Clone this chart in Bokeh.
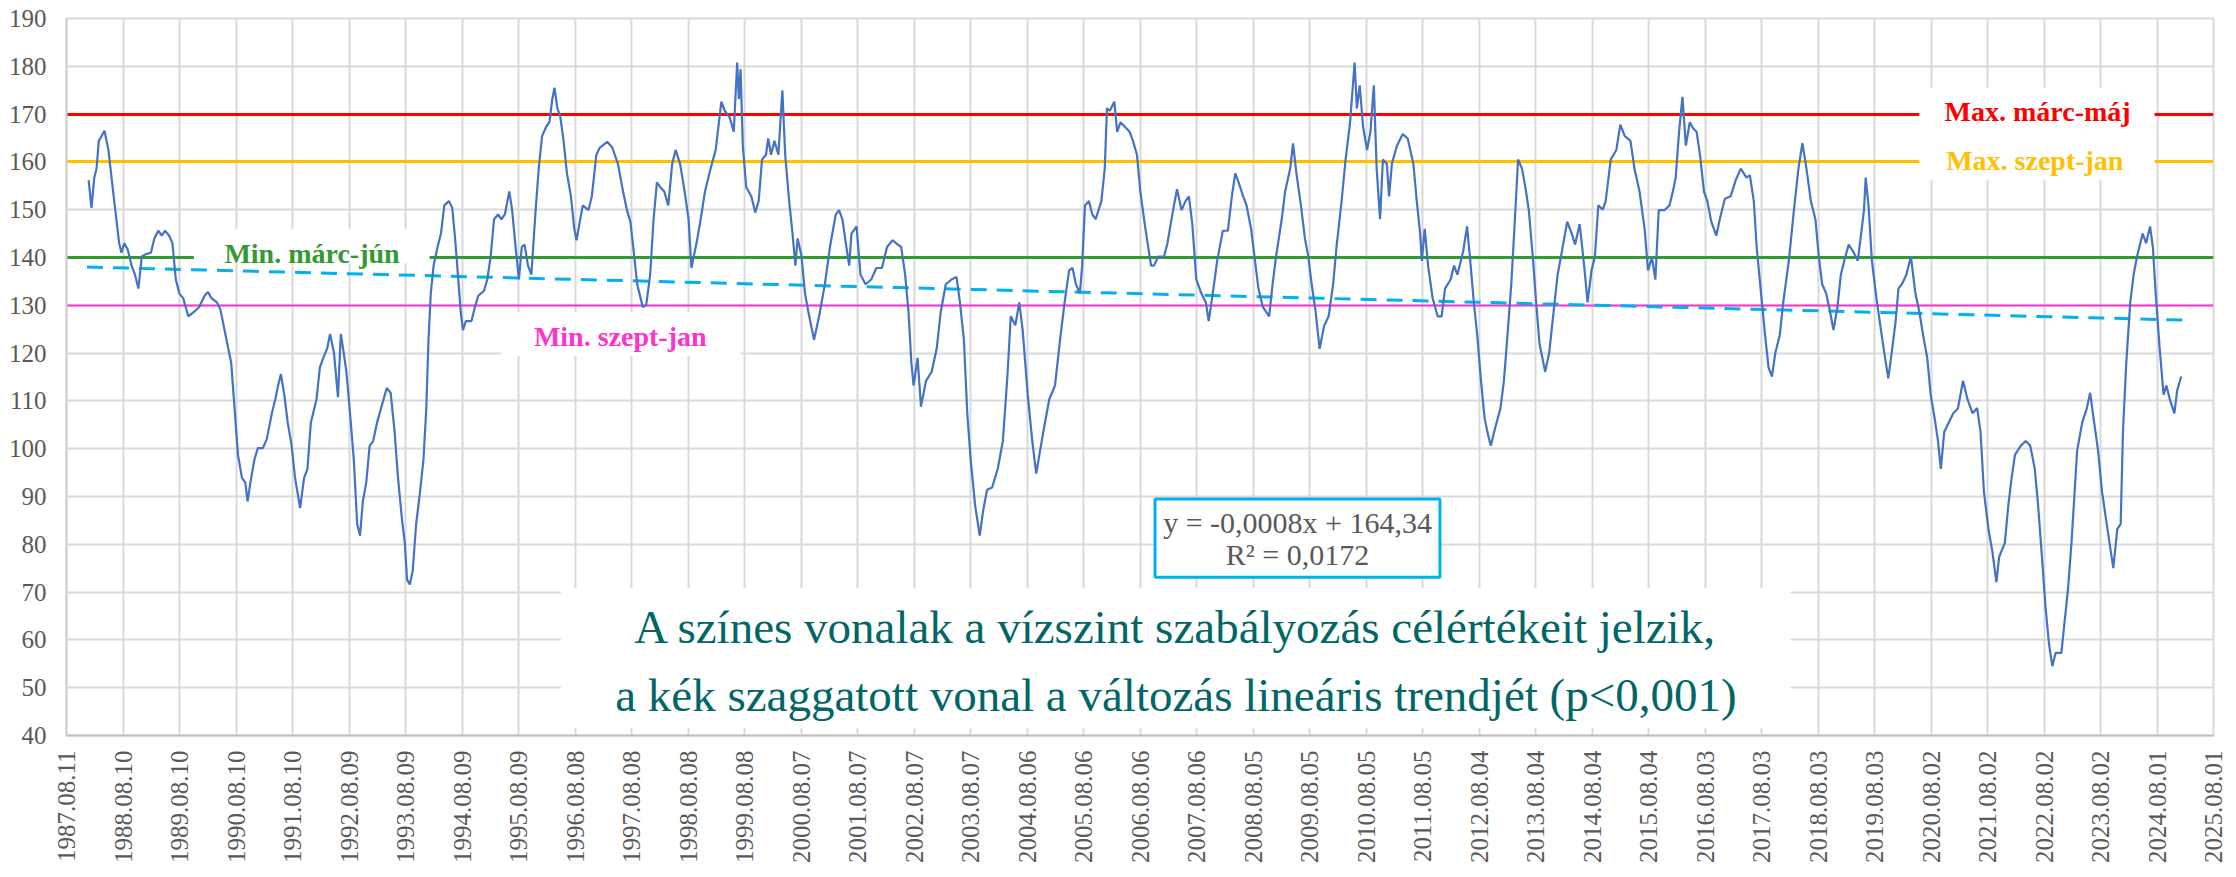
import numpy as np
import pandas as pd
from bokeh.plotting import figure
from bokeh.models import Range1d, FixedTicker, DatetimeTickFormatter
from bokeh.core.properties import value
from bokeh.embed import file_html
from bokeh.resources import INLINE

# ---------------- data ----------------
tick_labels = ["1987.08.11", "1988.08.10", "1989.08.10", "1990.08.10", "1991.08.10",
               "1992.08.09", "1993.08.09", "1994.08.09", "1995.08.09", "1996.08.08",
               "1997.08.08", "1998.08.08", "1999.08.08", "2000.08.07", "2001.08.07",
               "2002.08.07", "2003.08.07", "2004.08.06", "2005.08.06", "2006.08.06",
               "2007.08.06", "2008.08.05", "2009.08.05", "2010.08.05", "2011.08.05",
               "2012.08.04", "2013.08.04", "2014.08.04", "2015.08.04", "2016.08.03",
               "2017.08.03", "2018.08.03", "2019.08.03", "2020.08.02", "2021.08.02",
               "2022.08.02", "2023.08.02", "2024.08.01", "2025.08.01"]
y_ticks = list(range(40, 200, 10))

# water level series (decimal year, cm)
dec_years = [
    1988.00, 1988.05, 1988.10, 1988.14, 1988.18, 1988.22, 1988.28, 1988.35, 1988.41, 1988.47,
    1988.54, 1988.58, 1988.63, 1988.69, 1988.76, 1988.82, 1988.88, 1988.94, 1989.01, 1989.10,
    1989.16, 1989.23, 1989.29, 1989.35, 1989.42, 1989.48, 1989.54, 1989.60, 1989.67, 1989.76,
    1989.86, 1989.95, 1990.05, 1990.11, 1990.17, 1990.27, 1990.33, 1990.42, 1990.52, 1990.58,
    1990.64, 1990.71, 1990.77, 1990.81, 1990.86, 1990.93, 1990.99, 1991.08, 1991.15, 1991.24,
    1991.30, 1991.35, 1991.40, 1991.46, 1991.52, 1991.59, 1991.65, 1991.74, 1991.81, 1991.87,
    1991.93, 1992.03, 1992.09, 1992.15, 1992.22, 1992.27, 1992.34, 1992.41, 1992.46, 1992.50,
    1992.56, 1992.63, 1992.69, 1992.75, 1992.80, 1992.85, 1992.91, 1992.97, 1993.03, 1993.10,
    1993.19, 1993.27, 1993.34, 1993.41, 1993.47, 1993.54, 1993.59, 1993.63, 1993.68, 1993.73,
    1993.79, 1993.85, 1993.92, 1993.97, 1994.01, 1994.05, 1994.10, 1994.17, 1994.23, 1994.29,
    1994.37, 1994.43, 1994.48, 1994.53, 1994.58, 1994.62, 1994.67, 1994.77, 1994.83, 1994.89,
    1994.99, 1995.05, 1995.11, 1995.17, 1995.24, 1995.30, 1995.36, 1995.44, 1995.49, 1995.55,
    1995.61, 1995.66, 1995.71, 1995.77, 1995.83, 1995.90, 1995.96, 1996.02, 1996.09, 1996.15,
    1996.20, 1996.24, 1996.29, 1996.34, 1996.40, 1996.46, 1996.53, 1996.59, 1996.63, 1996.68,
    1996.74, 1996.84, 1996.90,
    1996.98, 1997.04, 1997.17, 1997.26, 1997.36, 1997.45, 1997.52, 1997.58, 1997.64, 1997.70,
    1997.80, 1997.86, 1997.93, 1997.99, 1998.05, 1998.11, 1998.18, 1998.25, 1998.32, 1998.38,
    1998.46, 1998.54, 1998.61, 1998.66, 1998.75, 1998.81, 1998.90, 1999.00, 1999.09, 1999.19,
    1999.25, 1999.34, 1999.41, 1999.47, 1999.50, 1999.53, 1999.57, 1999.63, 1999.72, 1999.79,
    1999.85, 1999.91, 1999.98, 2000.02, 2000.07, 2000.13, 2000.20, 2000.27, 2000.32, 2000.39,
    2000.45, 2000.50, 2000.54, 2000.61, 2000.67, 2000.73, 2000.83, 2000.92, 2001.02, 2001.11,
    2001.21, 2001.27, 2001.33, 2001.40, 2001.45, 2001.49, 2001.58, 2001.65, 2001.74, 2001.84,
    2001.93, 2002.03, 2002.12, 2002.22, 2002.31, 2002.37, 2002.44, 2002.50, 2002.55, 2002.59,
    2002.66, 2002.72, 2002.81, 2002.91, 2003.00, 2003.07, 2003.16, 2003.26, 2003.35, 2003.41,
    2003.48, 2003.54, 2003.60, 2003.68, 2003.76, 2003.82, 2003.89, 2003.98, 2004.08, 2004.17,
    2004.25, 2004.31, 2004.39, 2004.46, 2004.52, 2004.61, 2004.69, 2004.76, 2004.83, 2004.90,
    2004.99, 2005.09, 2005.18, 2005.26, 2005.34, 2005.40, 2005.46, 2005.53, 2005.57, 2005.62,
    2005.69, 2005.75, 2005.81, 2005.91, 2005.97, 2006.01, 2006.06, 2006.14, 2006.19, 2006.25,
    2006.33, 2006.41, 2006.47, 2006.54, 2006.60, 2006.69, 2006.79,
    2006.84, 2006.92, 2007.02, 2007.08, 2007.18, 2007.25, 2007.33, 2007.40, 2007.46, 2007.52,
    2007.59, 2007.68, 2007.76, 2007.81, 2007.87, 2007.96, 2008.06, 2008.15, 2008.22, 2008.28,
    2008.34, 2008.42, 2008.48, 2008.56, 2008.63, 2008.69, 2008.77, 2008.88, 2008.94, 2009.00,
    2009.10, 2009.16, 2009.25, 2009.30, 2009.36, 2009.44, 2009.51, 2009.57, 2009.63, 2009.70,
    2009.77, 2009.85, 2009.93, 2010.01, 2010.07, 2010.16, 2010.23, 2010.31, 2010.39, 2010.43,
    2010.48, 2010.54, 2010.61, 2010.67, 2010.73, 2010.78, 2010.84, 2010.89, 2010.96, 2011.00,
    2011.05, 2011.14, 2011.24, 2011.33, 2011.43, 2011.49, 2011.55, 2011.58, 2011.63, 2011.69,
    2011.77, 2011.86, 2011.93, 2011.99, 2012.09, 2012.15, 2012.21, 2012.31, 2012.38, 2012.43,
    2012.50, 2012.56, 2012.62, 2012.69, 2012.75, 2012.80, 2012.88, 2012.97, 2013.03, 2013.10,
    2013.16, 2013.22, 2013.28, 2013.35, 2013.41, 2013.47, 2013.54, 2013.60, 2013.66, 2013.76,
    2013.83, 2013.90, 2013.98, 2014.07, 2014.15, 2014.23, 2014.29, 2014.37, 2014.45, 2014.51,
    2014.58, 2014.64, 2014.70, 2014.78, 2014.83, 2014.92, 2015.02, 2015.09, 2015.17, 2015.27,
    2015.34, 2015.43, 2015.52, 2015.58, 2015.65, 2015.71, 2015.77, 2015.87, 2015.96, 2016.02,
    2016.07, 2016.13, 2016.19, 2016.25, 2016.32, 2016.38, 2016.44, 2016.50, 2016.57, 2016.63,
    2016.70, 2016.79, 2016.85, 2016.94, 2017.04, 2017.13, 2017.22, 2017.32, 2017.38, 2017.45,
    2017.50, 2017.57, 2017.64, 2017.71, 2017.77, 2017.83, 2017.91, 2017.97, 2018.07, 2018.16,
    2018.24, 2018.31, 2018.37, 2018.46, 2018.54, 2018.60, 2018.66, 2018.73, 2018.80, 2018.86,
    2018.93, 2018.99, 2019.07, 2019.13, 2019.21, 2019.29, 2019.35, 2019.40, 2019.43, 2019.48,
    2019.54, 2019.62, 2019.70, 2019.76, 2019.83, 2019.90, 2019.96, 2020.01, 2020.07, 2020.15,
    2020.23, 2020.31, 2020.38, 2020.46, 2020.52, 2020.58, 2020.65, 2020.71, 2020.76, 2020.82,
    2020.90, 2020.98, 2021.06, 2021.15, 2021.23, 2021.32, 2021.40, 2021.46, 2021.52, 2021.60,
    2021.67, 2021.74, 2021.79, 2021.89, 2021.95, 2022.01, 2022.07, 2022.17, 2022.26, 2022.34,
    2022.42, 2022.48, 2022.54, 2022.61, 2022.67, 2022.73, 2022.79, 2022.89, 2022.95, 2023.01,
    2023.07, 2023.17, 2023.26, 2023.34, 2023.40, 2023.46, 2023.54, 2023.61, 2023.67, 2023.73,
    2023.81, 2023.88, 2023.94, 2023.98, 2024.04, 2024.11, 2024.17, 2024.23, 2024.33, 2024.39,
    2024.46, 2024.51, 2024.56, 2024.63, 2024.70, 2024.75, 2024.81, 2024.89, 2024.94, 2025.01,
]
level_cm = [
    156.2, 150.4, 156.7, 158.6, 164.4, 165.2, 166.5, 162.5, 156.2, 150.0,
    143.0, 141.0, 143.0, 141.7, 138.3, 136.4, 133.5, 140.2, 140.7, 141.0,
    144.0, 145.6, 144.6, 145.6, 144.6, 143.0, 135.4, 132.5, 131.5, 127.7,
    128.6, 129.6, 132.0, 132.8, 131.5, 130.6, 129.1, 123.8, 118.0, 108.4,
    98.7, 93.9, 92.9, 89.0, 92.9, 97.7, 100.1, 100.1, 102.0, 107.4,
    110.3, 113.2, 115.6, 111.3, 105.5, 100.6, 93.9, 87.6, 93.9, 95.8,
    105.5, 110.3, 117.0, 119.0, 121.0, 124.0, 120.0, 110.8, 124.0, 121.0,
    116.0, 106.4, 97.7, 84.2, 81.8, 89.0, 92.9, 100.6, 101.6, 105.5,
    109.3, 112.7, 111.7, 103.5, 93.9, 85.2, 80.3, 72.6, 71.6, 74.5,
    84.2, 90.0, 97.7, 108.4, 122.8, 132.5, 138.3, 142.2, 145.0, 150.9,
    151.8, 150.4, 144.0, 136.4, 128.6, 124.8, 126.7, 126.7, 129.6, 132.0,
    133.0, 135.4, 140.2, 148.0, 149.0, 148.0, 149.0, 153.8, 149.9, 142.2,
    135.4, 142.2, 142.7, 138.3, 136.4, 149.0, 158.6, 165.4, 167.3, 168.3,
    173.1, 175.5, 171.2, 169.7, 164.4, 157.6, 152.8, 146.0, 143.6, 147.0,
    150.9, 149.9, 152.8,
    161.5, 163.0, 164.2, 163.0, 159.6, 153.8, 149.9, 147.5, 141.2, 134.4,
    129.6, 130.1, 136.4, 148.0, 155.7, 154.7, 153.8, 150.9, 159.6, 162.5,
    159.6, 153.8, 148.0, 137.8, 143.0, 147.0, 153.8, 158.6, 162.5, 172.6,
    170.7, 169.2, 166.3, 180.8, 173.1, 179.4, 163.4, 154.7, 152.8, 149.4,
    151.8, 160.5, 161.5, 164.9, 161.5, 164.4, 161.5, 175.0, 161.5, 151.8,
    145.0, 138.3, 144.0, 140.2, 132.5, 128.6, 122.8, 127.7, 134.4, 142.2,
    148.9, 149.9, 148.0, 142.2, 138.3, 145.0, 146.5, 136.4, 134.4, 135.4,
    137.8, 137.8, 142.2, 143.6, 142.7, 142.2, 136.4, 128.6, 118.0, 113.2,
    119.0, 108.8, 114.2, 116.1, 121.0, 128.6, 134.4, 135.4, 135.9, 130.6,
    122.8, 107.4, 97.7, 88.0, 81.8, 87.0, 91.4, 91.9, 95.8, 101.6,
    115.1, 127.7, 125.8, 130.6, 124.8, 111.3, 101.6, 94.8, 99.7, 104.5,
    110.3, 113.2, 122.8, 130.6, 137.3, 137.8, 134.4, 132.5, 138.3, 150.9,
    151.8, 149.0, 148.0, 151.8, 158.6, 171.2, 170.7, 172.6, 166.3, 168.3,
    167.3, 166.3, 164.4, 161.5, 153.8, 146.0, 138.3,
    138.3, 140.2, 140.2, 143.0, 149.9, 154.3, 149.9, 151.8, 152.8, 147.0,
    135.4, 132.5, 130.6, 126.7, 131.5, 139.3, 145.6, 145.6, 152.8, 157.6,
    155.7, 152.8, 150.9, 146.0, 139.3, 133.5, 129.6, 127.7, 134.4, 140.2,
    148.0, 153.8, 158.6, 163.9, 157.6, 150.9, 144.0, 140.2, 134.4, 128.6,
    120.9, 125.7, 127.7, 134.4, 142.2, 151.8, 160.5, 168.3, 180.8, 171.2,
    176.0, 167.3, 162.5, 166.3, 176.0, 158.6, 148.0, 160.5, 159.6, 152.8,
    159.6, 163.4, 165.8, 164.9, 159.6, 151.8, 145.0, 139.3, 146.0, 138.3,
    131.5, 127.7, 127.7, 133.5, 135.4, 138.3, 136.4, 141.2, 146.5, 140.2,
    130.6, 123.8, 115.1, 106.4, 103.0, 100.6, 104.5, 108.4, 114.2, 124.8,
    134.4, 147.0, 160.5, 158.6, 154.7, 149.9, 140.2, 130.6, 121.9, 116.1,
    120.0, 127.7, 136.4, 142.2, 147.5, 145.0, 142.7, 147.0, 138.3, 130.6,
    137.3, 140.2, 150.9, 150.0, 151.8, 160.5, 162.5, 167.8, 165.4, 164.4,
    158.6, 153.8, 146.0, 137.3, 140.0, 135.4, 149.9, 149.9, 150.9, 153.8,
    156.7, 166.3, 173.6, 163.4, 168.3, 167.0, 166.3, 161.5, 153.8, 151.8,
    147.5, 144.6, 148.0, 152.3, 152.8, 156.2, 158.6, 156.7, 157.2, 151.8,
    142.2, 133.5, 124.8, 117.0, 115.1, 120.0, 123.8, 130.6, 139.3, 149.9,
    158.6, 163.9, 159.6, 151.8, 148.0, 140.2, 134.4, 132.5, 128.6, 124.8,
    129.6, 136.4, 140.2, 142.7, 141.2, 139.3, 145.0, 149.9, 156.7, 150.9,
    139.3, 131.5, 124.8, 120.0, 114.7, 121.0, 126.7, 133.5, 134.4, 136.4,
    140.2, 132.5, 128.6, 122.8, 119.0, 111.3, 106.4, 101.6, 95.8, 103.5,
    105.5, 107.4, 108.4, 114.2, 110.3, 107.4, 108.5, 103.5, 91.0, 83.2,
    78.4, 72.1, 77.4, 80.3, 88.0, 93.9, 98.7, 100.6, 101.6, 100.6,
    95.8, 88.0, 78.4, 66.9, 59.3, 54.5, 57.3, 57.3, 64.1, 70.8,
    80.3, 99.6, 105.5, 108.4, 111.7, 106.4, 99.6, 91.0, 86.1, 81.3,
    75.0, 83.2, 84.2, 103.5, 118.0, 130.6, 136.4, 140.2, 145.0, 143.0,
    146.5, 142.2, 132.5, 121.0, 111.3, 113.2, 110.3, 107.4, 112.2, 115.1,
]

# linear trend end points
trend_dec_years = [1987.97, 2025.06]
trend_cm = [138.0, 126.9]

# regulation target levels
target_levels = [170, 160, 140, 130]
target_names = ["Max. márc-máj", "Max. szept-jan", "Min. márc-jún", "Min. szept-jan"]
target_colors = ["#FF0000", "#FFC000", "#339933", "#FF33CC"]
target_widths = [3, 3, 3, 2]

eq_lines = ["y = -0,0008x + 164,34", "R² = 0,0172"]
note_lines = ["A színes vonalak a vízszint szabályozás célértékeit jelzik,",
              "a kék szaggatott vonal a változás lineáris trendjét (p<0,001)"]


def dec2dt(t):
    t = np.atleast_1d(np.asarray(t, dtype=float))
    yrs = np.floor(t).astype(int)
    base = pd.to_datetime([f"{y}-01-01" for y in yrs])
    return (base + pd.to_timedelta((t - yrs) * 365.25, unit="D")).to_numpy()


tick_dt = pd.to_datetime(tick_labels, format="%Y.%m.%d")
tick_ms = [ts.value / 1e6 for ts in tick_dt]

SERIF = "Liberation Serif"
GRAY = "#595959"

p = figure(width=2228, height=869, x_axis_type="datetime",
           x_range=Range1d(tick_dt[0], tick_dt[-1]), y_range=Range1d(40, 190),
           output_backend="svg", toolbar_location=None,
           min_border_left=66, min_border_right=15, min_border_top=18, min_border_bottom=134,
           background_fill_color="white", border_fill_color="white")

p.outline_line_color = "#D9D9D9"
p.outline_line_width = 2

p.xaxis.ticker = FixedTicker(ticks=tick_ms)
p.xgrid.ticker = FixedTicker(ticks=tick_ms)
fmt = "%Y.%m.%d"
p.xaxis.formatter = DatetimeTickFormatter(days=fmt, months=fmt, years=fmt, hours=fmt,
                                          hourmin=fmt, minutes=fmt, minsec=fmt, seconds=fmt,
                                          milliseconds=fmt, microseconds=fmt)
p.xaxis.major_label_orientation = np.pi / 2
p.yaxis.ticker = FixedTicker(ticks=y_ticks)
p.ygrid.ticker = FixedTicker(ticks=y_ticks)

for ax in (p.xaxis, p.yaxis):
    ax.major_label_text_font = SERIF
    ax.major_label_text_color = GRAY
    ax.major_tick_in = 0
    ax.major_tick_out = 0
    ax.minor_tick_in = 0
    ax.minor_tick_out = 0
p.xaxis.major_label_text_font_size = "25px"
p.yaxis.major_label_text_font_size = "25px"
p.xaxis.major_label_standoff = 15
p.yaxis.major_label_standoff = 20
p.xaxis.axis_line_color = "#BFBFBF"
p.xaxis.axis_line_width = 2
p.yaxis.axis_line_color = "#D0D0D0"
p.yaxis.axis_line_width = 2

for g in (p.xgrid, p.ygrid):
    g.grid_line_color = "#D9D9D9"
    g.grid_line_width = 2

# regulation lines
for lvl, col, w in zip(target_levels, target_colors, target_widths):
    p.hspan(y=[lvl], line_color=col, line_width=w)

# white label boxes (hide grid and line behind text)
boxes = [
    (2020.38, 2024.54, 156.3, 175.5),   # Max labels
    (1989.86, 1994.03, 138.8, 146.0),   # Min marc-jun
    (1995.30, 1999.53, 119.4, 128.6),   # Min szept-jan
    (1996.35, 2018.10, 41.5, 70.8),     # note
]
for l, r, b, t in boxes:
    p.quad(left=dec2dt([l]), right=dec2dt([r]), bottom=[b], top=[t],
           fill_color="white", line_color=None)

# equation box
p.quad(left=dec2dt([2006.86]), right=dec2dt([2011.90]), bottom=[73.1], top=[89.5],
       fill_color="white", line_color="#00B0F0", line_width=3)

# trend
p.line(dec2dt(trend_dec_years), trend_cm, line_color="#00B0F0", line_width=3,
       line_dash="16 10")

# water level
p.line(dec2dt(dec_years), level_cm, line_color="#4472C4", line_width=2.2)

# target labels
label_pos = [(2022.47, 170.6), (2022.42, 160.2), (1991.95, 140.9), (1997.40, 123.4)]
for (tx, ty), name, col in zip(label_pos, target_names, target_colors):
    p.text(x=dec2dt([tx]), y=[ty], text=[name], text_color=col,
           text_font=value(SERIF), text_font_style="bold", text_font_size="28px",
           text_align="center", text_baseline="middle")

# equation text
for txt, ty in zip(eq_lines, [84.6, 77.8]):
    p.text(x=dec2dt([2009.38]), y=[ty], text=[txt], text_color=GRAY,
           text_font=value(SERIF), text_font_size="30px",
           text_align="center", text_baseline="middle")

# note text
for txt, ty in zip(note_lines, [62.6, 48.4]):
    p.text(x=dec2dt([2007.23]), y=[ty], text=[txt], text_color="#006666",
           text_font=value(SERIF), text_font_size="47px",
           text_align="center", text_baseline="middle")

open("out.html", "w").write(file_html(p, INLINE))
